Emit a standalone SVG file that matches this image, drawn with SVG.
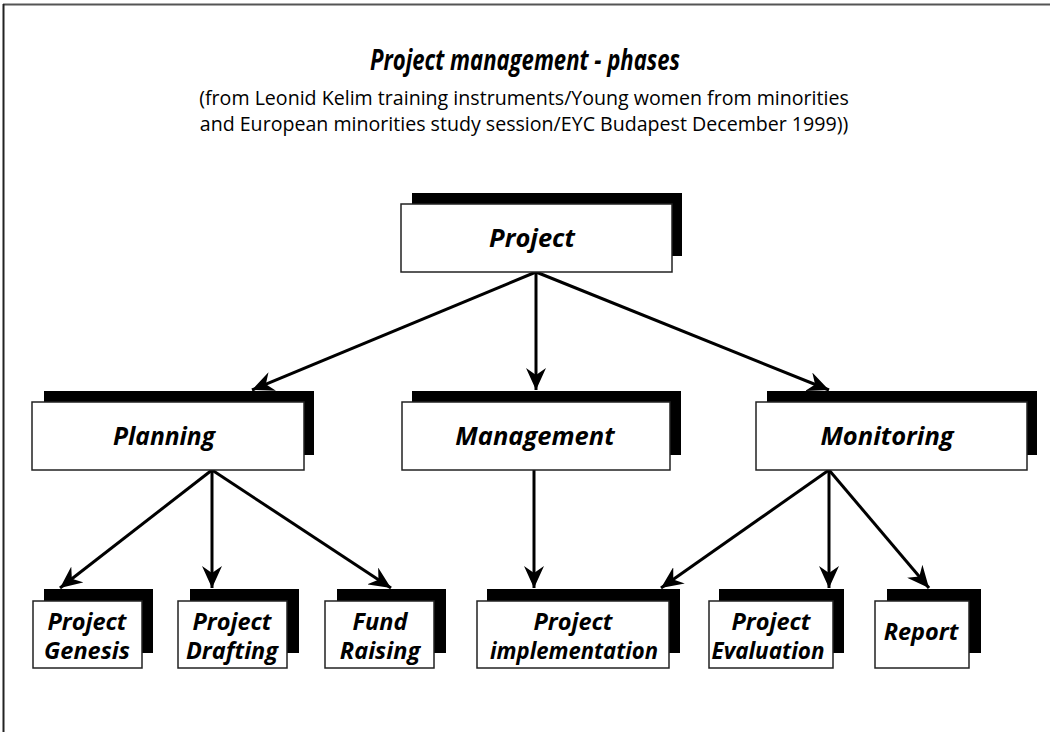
<svg xmlns="http://www.w3.org/2000/svg" width="1050" height="732" viewBox="0 0 1050 732">
<style>
.bg{fill:#fff}
.sh{fill:#000}
.bx{fill:#fff;stroke:#222;stroke-width:1.5}
.lb{font-family:"Open Sans","Noto Sans","Liberation Sans",sans-serif;font-weight:bold;font-style:italic;font-size:25.5px;fill:#000;text-anchor:middle}
.ls{font-family:"Open Sans","Noto Sans","Liberation Sans",sans-serif;font-weight:bold;font-style:italic;font-size:23.5px;fill:#000;text-anchor:middle}
.title{font-family:"Open Sans","Noto Sans","Liberation Sans",sans-serif;font-weight:bold;font-style:italic;font-size:28px;fill:#000;text-anchor:middle}
.sub{font-family:"Open Sans","Noto Sans","Liberation Sans",sans-serif;font-size:19.6px;fill:#000;text-anchor:middle}
.cn{stroke:#000;stroke-width:3;fill:none;marker-end:url(#ah)}
</style>
<defs>
<marker id="ah" viewBox="0 0 22 20" refX="22" refY="10" markerWidth="22" markerHeight="20" markerUnits="userSpaceOnUse" orient="auto">
<path d="M0,0 L22,10 L0,20 L7,10 Z" fill="#000"/>
</marker>
</defs>
<rect class="bg" x="0" y="0" width="1050" height="732"/>
<line x1="3" y1="4.5" x2="1050" y2="4.5" stroke="#555" stroke-width="2"/>
<line x1="3.5" y1="4" x2="3.5" y2="732" stroke="#222" stroke-width="2"/>
<g id="title">
<text class="title" x="525" y="70" textLength="310" lengthAdjust="spacingAndGlyphs">Project management - phases</text>
<text class="sub" x="524" y="105">(from Leonid Kelim training instruments/Young women from minorities</text>
<text class="sub" x="524" y="131">and European minorities study session/EYC Budapest December 1999))</text>
</g>
<g id="connectors">
<line class="cn" x1="536" y1="272" x2="252" y2="390"/>
<line class="cn" x1="536" y1="272" x2="536" y2="390"/>
<line class="cn" x1="536" y1="272" x2="829" y2="390"/>
<line class="cn" x1="212" y1="470" x2="60" y2="588"/>
<line class="cn" x1="212" y1="470" x2="212" y2="588"/>
<line class="cn" x1="212" y1="470" x2="391" y2="588"/>
<line class="cn" x1="534" y1="470" x2="534" y2="588"/>
<line class="cn" x1="829" y1="470" x2="661" y2="588"/>
<line class="cn" x1="829" y1="470" x2="829" y2="588"/>
<line class="cn" x1="829" y1="470" x2="929" y2="588"/>
</g>
<g id="project">
<rect class="sh" x="412" y="193" width="270" height="63"/>
<rect class="bx" x="401" y="204" width="271" height="68"/>
<text class="lb" x="532" y="247">Project</text>
</g>
<g id="planning">
<rect class="sh" x="44" y="391" width="270" height="64"/>
<rect class="bx" x="32" y="402" width="272" height="68"/>
<text class="lb" x="164" y="445" textLength="102" lengthAdjust="spacingAndGlyphs">Planning</text>
</g>
<g id="management">
<rect class="sh" x="412" y="391" width="269" height="64"/>
<rect class="bx" x="402" y="402" width="268" height="68"/>
<text class="lb" x="535" y="445">Management</text>
</g>
<g id="monitoring">
<rect class="sh" x="767" y="391" width="270" height="64"/>
<rect class="bx" x="756" y="402" width="271" height="68"/>
<text class="lb" x="887" y="445">Monitoring</text>
</g>
<g id="genesis">
<rect class="sh" x="44" y="589" width="109" height="64"/>
<rect class="bx" x="33" y="601" width="109" height="67"/>
<text class="ls" x="87" y="630">Project</text>
<text class="ls" x="87" y="659">Genesis</text>
</g>
<g id="drafting">
<rect class="sh" x="190" y="589" width="109" height="64"/>
<rect class="bx" x="178" y="601" width="109" height="67"/>
<text class="ls" x="232" y="630">Project</text>
<text class="ls" x="232" y="659">Drafting</text>
</g>
<g id="fundraising">
<rect class="sh" x="337" y="589" width="109" height="64"/>
<rect class="bx" x="325" y="601" width="109" height="67"/>
<text class="ls" x="380" y="630">Fund</text>
<text class="ls" x="380" y="659">Raising</text>
</g>
<g id="implementation">
<rect class="sh" x="487" y="589" width="193" height="64"/>
<rect class="bx" x="477" y="601" width="192" height="67"/>
<text class="ls" x="573" y="630">Project</text>
<text class="ls" x="574" y="659" textLength="168" lengthAdjust="spacingAndGlyphs">implementation</text>
</g>
<g id="evaluation">
<rect class="sh" x="719" y="589" width="125" height="64"/>
<rect class="bx" x="709" y="601" width="124" height="67"/>
<text class="ls" x="771" y="630">Project</text>
<text class="ls" x="768" y="659" textLength="113" lengthAdjust="spacingAndGlyphs">Evaluation</text>
</g>
<g id="report">
<rect class="sh" x="887" y="589" width="94" height="64"/>
<rect class="bx" x="875" y="601" width="94" height="67"/>
<text class="ls" x="921" y="640">Report</text>
</g>
</svg>
